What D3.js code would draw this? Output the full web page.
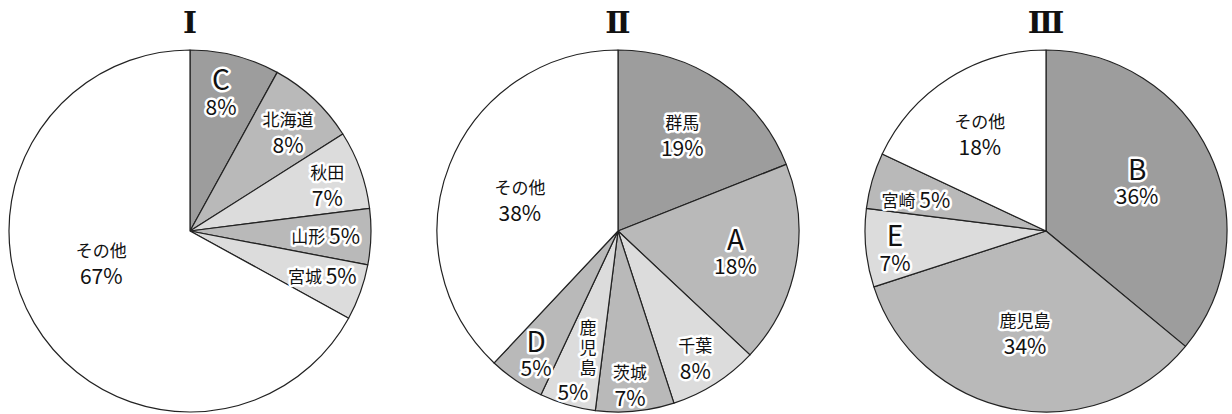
<!DOCTYPE html>
<html>
<head>
<meta charset="utf-8">
<script src="https://cdn.jsdelivr.net/npm/d3@7"></script>
<style>
  body { margin: 0; background: #fff; }
</style>
</head>
<body>
<div id="wrapper"></div>
<script>
// data
const chartTitles = ["Ⅰ", "Ⅱ", "Ⅲ"]

const namesI = ["C", "北海道", "秋田", "山形", "宮城", "その他"]
const valuesI = [8, 8, 7, 5, 5, 67]

const namesII = ["群馬", "A", "千葉", "茨城", "鹿児島", "D", "その他"]
const valuesII = [19, 18, 8, 7, 5, 5, 38]

const namesIII = ["B", "鹿児島", "E", "宮崎", "その他"]
const valuesIII = [36, 34, 7, 5, 18]

// styling / label placement (k = distance from centre as share of radius, da = angle nudge in degrees)
const shade = { dark: "#9d9d9d", mid: "#b9b9b9", light: "#dcdcdc", white: "#ffffff" }
const layout = [
  {
    shades: ["dark", "mid", "light", "mid", "light", "white"],
    labels: [
      { k: 0.78, da: -1.7 }, { k: 0.77, da: 1.5 }, { k: 0.8, da: 1.2 },
      { k: 0.75, da: 0, mode: "inline" }, { k: 0.77, da: -1.5, mode: "inline" },
      { k: 0.52, da: 11.2 },
    ],
  },
  {
    shades: ["dark", "mid", "light", "mid", "light", "mid", "white"],
    labels: [
      { k: 0.64, da: -0.5 }, { k: 0.66, da: -0.2 }, { k: 0.82, da: 1 },
      { k: 0.85, da: 0.9 },
      { k: 0.66, da: -1.7, mode: "vertical", k2: 0.92, da2: -0.5 },
      { k: 0.82, da: -0.7 }, { k: 0.57, da: -3.6 },
    ],
  },
  {
    shades: ["dark", "mid", "light", "mid", "white"],
    labels: [
      { k: 0.57, da: -2.8 }, { k: 0.57, da: 0.9 }, { k: 0.84, da: -1.4 },
      { k: 0.74, da: -2.5, mode: "inline" }, { k: 0.65, da: -1.8 },
    ],
  },
]

const series = [
  { names: namesI, values: valuesI },
  { names: namesII, values: valuesII },
  { names: namesIII, values: valuesIII },
]

const dimensions = { width: 1232, height: 414, centerY: 231, radius: 181 }

const svg = d3.select("#wrapper")
  .append("svg")
  .attr("width", dimensions.width)
  .attr("height", dimensions.height)

const xScale = d3.scalePoint()
  .domain(chartTitles)
  .range([190, 1046])

const pie = d3.pie().sort(null).value(d => d.value)
const arc = d3.arc().innerRadius(0).outerRadius(dimensions.radius)

const font = "'Noto Sans CJK JP', 'Noto Sans', sans-serif"
const isLetter = s => /^[A-Z]$/.test(s)

const polar = (a, dist) => [Math.sin(a) * dist, -Math.cos(a) * dist]
const rad = deg => deg * Math.PI / 180

function halo(sel) {
  return sel
    .attr("font-family", font)
    .attr("text-anchor", "middle")
    .attr("dominant-baseline", "central")
    .attr("fill", "#111")
    .attr("stroke", "#fff")
    .attr("stroke-width", 5)
    .attr("stroke-linejoin", "round")
    .attr("paint-order", "stroke")
}

chartTitles.forEach((title, i) => {
  const data = series[i].names.map((name, j) => ({ name, value: series[i].values[j] }))
  const g = svg.append("g")
    .attr("transform", `translate(${xScale(title)}, ${dimensions.centerY})`)

  const arcs = pie(data)

  g.selectAll("path")
    .data(arcs)
    .enter().append("path")
    .attr("d", arc)
    .attr("fill", (d, j) => shade[layout[i].shades[j]])
    .attr("stroke", "#222")
    .attr("stroke-width", 1.2)
    .attr("stroke-linejoin", "round")

  // title
  svg.append("text")
    .attr("x", xScale(title))
    .attr("y", 22)
    .attr("text-anchor", "middle")
    .attr("dominant-baseline", "central")
    .attr("font-family", "'DejaVu Serif', 'Liberation Serif', serif")
    .attr("font-size", 30)
    .attr("font-weight", "bold")
    .attr("fill", "#111")
    .text(title)

  arcs.forEach((d, j) => {
    const opt = layout[i].labels[j]
    const mid = (d.startAngle + d.endAngle) / 2
    const [x, y] = polar(mid + rad(opt.da), opt.k * dimensions.radius)
    const pct = d.data.value + "%"

    if (opt.mode === "inline") {
      const t = halo(g.append("text")).attr("x", x).attr("y", y)
      t.append("tspan").attr("font-size", 17).text(d.data.name + " ")
      t.append("tspan").attr("font-size", 21).text(pct)
    } else if (opt.mode === "vertical") {
      const chars = Array.from(d.data.name)
      chars.forEach((c, n) => {
        halo(g.append("text"))
          .attr("x", x)
          .attr("y", y + (n - (chars.length - 1) / 2) * 20)
          .attr("font-size", 17)
          .text(c)
      })
      const [x2, y2] = polar(mid + rad(opt.da2), opt.k2 * dimensions.radius)
      halo(g.append("text"))
        .attr("x", x2).attr("y", y2)
        .attr("font-size", 21)
        .text(pct)
    } else {
      const letter = isLetter(d.data.name)
      halo(g.append("text"))
        .attr("x", x)
        .attr("y", y - (letter ? 15 : 13))
        .attr("font-size", letter ? 28 : 17)
        .text(d.data.name)
      halo(g.append("text"))
        .attr("x", x)
        .attr("y", y + 12.5)
        .attr("font-size", 21)
        .text(pct)
    }
  })
})
</script>
</body>
</html>
